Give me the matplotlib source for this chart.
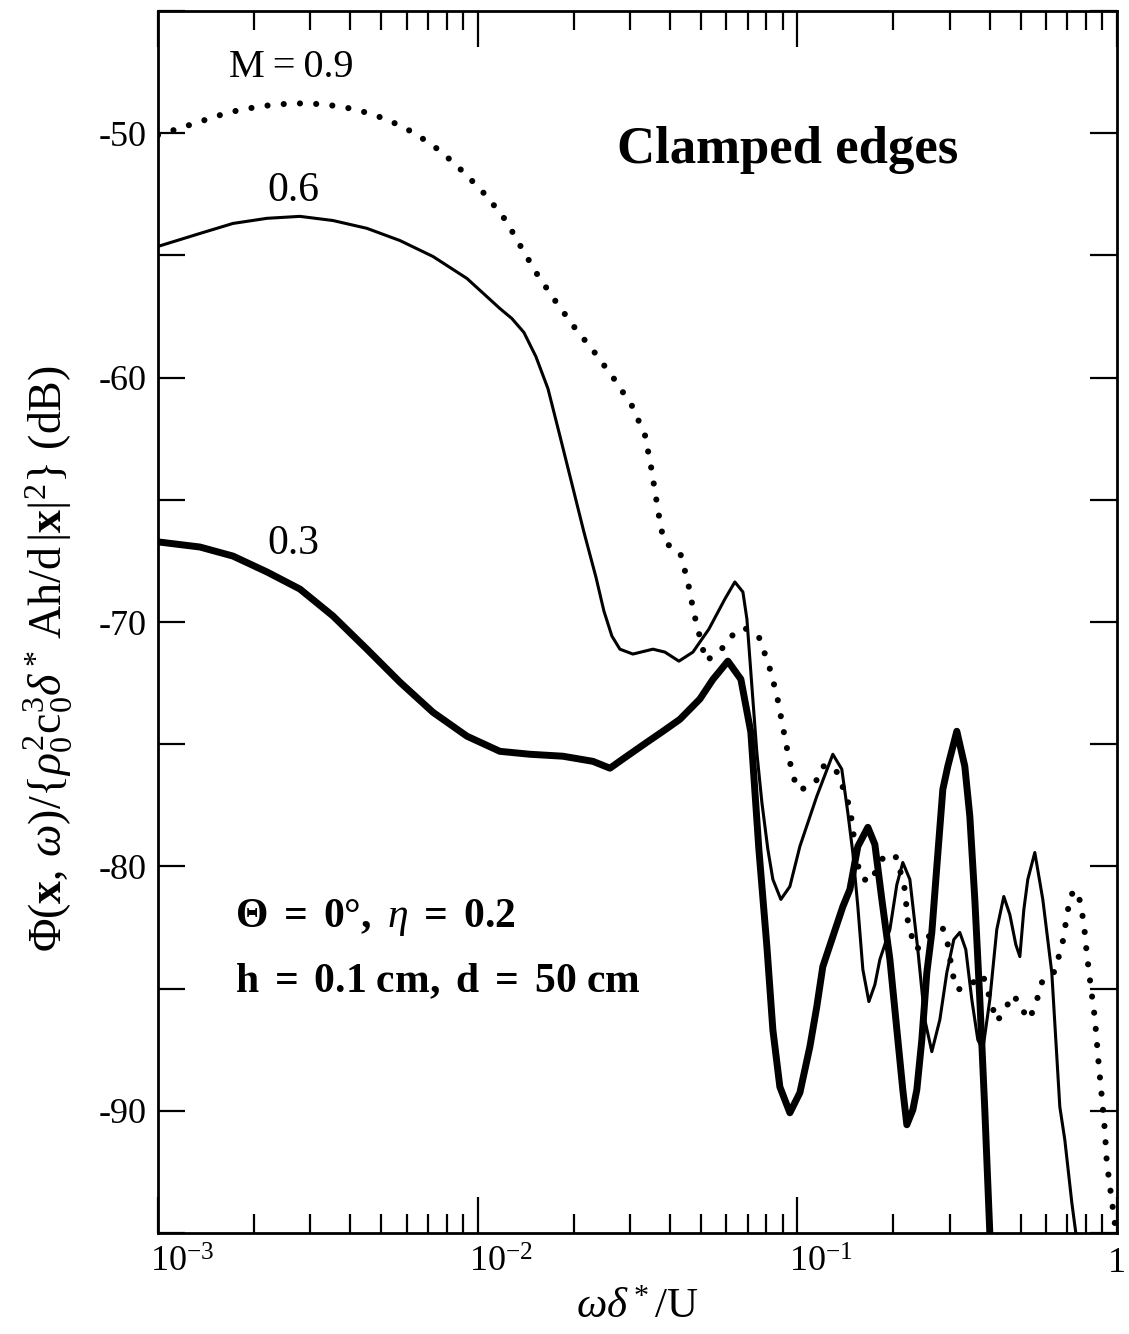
import matplotlib
matplotlib.use("Agg")
import matplotlib.pyplot as plt
import matplotlib.ticker as mticker
import matplotlib.transforms as mtransforms
import numpy as np

plt.rcParams['font.family'] = 'Liberation Serif'
plt.rcParams['mathtext.fontset'] = 'custom'
plt.rcParams['mathtext.rm'] = 'Liberation Serif'
plt.rcParams['mathtext.it'] = 'Liberation Serif:italic'
plt.rcParams['mathtext.bf'] = 'Liberation Serif:bold'
plt.rcParams['axes.unicode_minus'] = False

# M = 0.3 (thick line)
x_03 = [0.001, 0.001353, 0.001716, 0.002193, 0.00278, 0.003526, 0.004505, 0.005715,
        0.007247, 0.009259, 0.01174, 0.01457, 0.01848, 0.02295, 0.02594, 0.02931,
        0.03385, 0.03800, 0.04294, 0.04958, 0.05445, 0.06067, 0.06662, 0.07158,
        0.07584, 0.08035, 0.08388, 0.08822, 0.09482, 0.1019, 0.1095, 0.1151,
        0.1202, 0.1292, 0.1389, 0.1461, 0.1547, 0.1663, 0.1749, 0.1839, 0.1949,
        0.2049, 0.2139, 0.2202, 0.2299, 0.2366, 0.2453, 0.2543, 0.2636, 0.2733,
        0.2854, 0.2958, 0.3156, 0.3343, 0.3466, 0.3593, 0.3725, 0.3861, 0.4003]
y_03 = [-66.72, -66.93, -67.30, -67.95, -68.65, -69.75, -71.11, -72.46,
        -73.69, -74.67, -75.29, -75.41, -75.49, -75.70, -75.98, -75.49,
        -74.92, -74.47, -73.98, -73.15, -72.35, -71.60, -72.34, -74.51,
        -79.30, -83.28, -86.68, -89.02, -90.08, -89.26, -87.38, -85.74,
        -84.10, -82.87, -81.64, -80.94, -79.18, -78.40, -79.10, -81.35, -83.81,
        -86.68, -89.14, -90.57, -89.96, -89.14, -87.09, -84.34, -82.70, -80.00,
        -76.84, -75.90, -74.47, -75.90, -77.95, -81.35, -85.45, -89.96, -95.00]

# M = 0.6 (thin line)
x_06 = [0.001, 0.001353, 0.001716, 0.002193, 0.00278, 0.003526, 0.004505, 0.005715,
        0.007247, 0.009259, 0.01174, 0.01280, 0.01396, 0.01522, 0.01660, 0.01809,
        0.01972, 0.02150, 0.02345, 0.02484, 0.02630, 0.02787, 0.03060, 0.03535,
        0.03855, 0.04263, 0.04716, 0.05290, 0.05936, 0.06379, 0.06760, 0.06958,
        0.07211, 0.07474, 0.07750, 0.08091, 0.08388, 0.08885, 0.09482, 0.1019,
        0.1151, 0.1292, 0.1378, 0.1439, 0.1492, 0.1547, 0.1604, 0.1675, 0.1749,
        0.1813, 0.1949, 0.2049, 0.2139, 0.2250, 0.2383, 0.2506, 0.2636, 0.2793,
        0.2937, 0.3089, 0.3225, 0.3367, 0.3516, 0.3671, 0.3806, 0.4003, 0.4209,
        0.4427, 0.4624, 0.4828, 0.4970, 0.5115, 0.5263, 0.5535, 0.5863, 0.6255,
        0.6628, 0.6871, 0.7228, 0.7438]
y_06 = [-54.63, -54.10, -53.69, -53.48, -53.40, -53.57, -53.89, -54.39,
        -55.04, -55.94, -57.17, -57.58, -58.15, -59.14, -60.45, -62.38,
        -64.34, -66.31, -68.16, -69.55, -70.57, -71.11, -71.31, -71.11,
        -71.23, -71.60, -71.23, -70.29, -69.06, -68.36, -68.77, -69.88,
        -72.62, -75.33, -77.38, -79.30, -80.53, -81.35, -80.82, -79.18,
        -77.13, -75.41, -76.02, -77.79, -79.43, -81.64, -84.22, -85.53, -84.84,
        -83.81, -82.58, -80.74, -79.84, -80.53, -83.40, -86.27, -87.58, -86.27,
        -84.34, -82.99, -82.70, -83.40, -85.45, -87.09, -87.50, -85.45, -82.58,
        -81.23, -81.97, -83.20, -83.69, -81.76, -80.53, -79.43, -81.35, -84.34,
        -89.84, -91.19, -93.77, -95.00]

# M = 0.9 (dotted line)
x_09 = [0.001, 0.001334, 0.001667, 0.002100, 0.002645, 0.003305, 0.004162, 0.005203,
        0.006366, 0.007677, 0.009125, 0.01069, 0.01226, 0.01375, 0.01544, 0.01757,
        0.02001, 0.02311, 0.02669, 0.03039, 0.03337, 0.03484, 0.03612, 0.03745,
        0.03855, 0.04294, 0.04548, 0.04749, 0.05030, 0.05177, 0.05445, 0.05936,
        0.06379, 0.06858, 0.07584, 0.08149, 0.08633, 0.09016, 0.09414, 0.09972,
        0.1072, 0.1144, 0.1202, 0.1311, 0.1369, 0.1429, 0.1471, 0.1514, 0.1569,
        0.1687, 0.1879, 0.2049, 0.2170, 0.2218, 0.2283, 0.2366, 0.2543, 0.2854,
        0.2958, 0.3067, 0.3156, 0.3392, 0.3806, 0.3946, 0.4209, 0.4493, 0.4691,
        0.5004, 0.5224, 0.5495, 0.5863, 0.6391, 0.6771, 0.7021, 0.7175, 0.7545,
        0.7877, 0.8049, 0.8285, 0.8528, 0.8779, 0.8969, 0.9164, 0.9295, 0.9568,
        0.9847]
y_09 = [-50.08, -49.55, -49.14, -48.89, -48.77, -48.81, -49.02, -49.43,
        -50.00, -50.74, -51.64, -52.58, -53.57, -54.71, -55.82, -56.89,
        -57.91, -58.93, -60.04, -61.15, -62.34, -63.61, -64.88, -66.15,
        -66.76, -67.13, -68.36, -69.63, -70.94, -71.60, -71.39, -70.98,
        -70.41, -70.25, -70.61, -71.76, -72.99, -74.30, -75.57, -76.84,
        -76.80, -76.52, -75.90, -75.94, -76.56, -77.17, -77.87, -79.10, -80.41,
        -80.66, -79.51, -79.63, -80.94, -82.25, -82.87, -83.40, -82.91, -82.54,
        -83.20, -84.43, -85.04, -84.96, -84.43, -85.12, -86.35, -85.82, -85.25,
        -85.61, -86.27, -85.90, -84.63, -84.30, -83.07, -81.80, -81.15, -80.98,
        -82.30, -83.57, -84.92, -86.19, -88.16, -89.43, -90.78, -92.09, -93.36,
        -94.59]

x_ticks = [1e-3, 1e-2, 1e-1, 1]
x_ticklabels = ['$10^{-3}$', '$10^{-2}$', '$10^{-1}$', '1']
y_ticks = [-90, -80, -70, -60, -50]

fig = plt.figure(figsize=(11.29, 13.34), dpi=100)
ax = fig.add_axes([0.1399, 0.0757, 0.8494, 0.9160])

ax.plot(x_03, y_03, color='black', lw=5.0, solid_joinstyle='round', solid_capstyle='butt')
ax.plot(x_06, y_06, color='black', lw=2.2, solid_joinstyle='round')
ax.plot(x_09, y_09, color='black', lw=4.4, linestyle=(0, (0.01, 2.65)),
        dash_capstyle='round')

ax.set_xscale('log')
ax.set_xlim(1e-3, 1)
ax.set_ylim(-95, -45)

ax.set_xticks(x_ticks)
ax.set_xticklabels(x_ticklabels)
ax.xaxis.set_minor_locator(mticker.LogLocator(base=10, subs=np.arange(2, 10)))
ax.xaxis.set_minor_formatter(mticker.NullFormatter())
ax.set_yticks(y_ticks)
ax.set_yticklabels([str(v) for v in y_ticks])
ax.yaxis.set_minor_locator(mticker.MultipleLocator(5))

ax.tick_params(which='both', direction='in', top=True, right=True, width=1.6)
ax.tick_params(axis='x', which='major', length=26, labelsize=26, pad=10)
ax.tick_params(axis='x', which='minor', length=13.5)
ax.tick_params(axis='y', which='both', length=19.5, labelsize=26, pad=8)
for sp in ax.spines.values():
    sp.set_linewidth(2.0)

# power labels start near the tick, as in the original figure
shift = mtransforms.ScaledTranslation(-6 / 72, 0, fig.dpi_scale_trans)
for lbl in ax.get_xticklabels()[:3]:
    lbl.set_horizontalalignment('left')
    lbl.set_transform(lbl.get_transform() + shift)

ax.set_xlabel(r'$\omega\delta^*/\mathrm{U}$', fontsize=31, labelpad=6)
ax.set_ylabel(r'$\Phi(\mathbf{x},\,\omega)/\{\rho_0^2\mathrm{c}_0^3\delta^*\,\mathrm{Ah/d}\,|\mathbf{x}|^2\}$ (dB)',
              fontsize=33)
ax.yaxis.set_label_coords(-0.087, 0.47)

ax.text(0.00262, -47.3, 'M\u2009=\u20090.9', fontsize=29, ha='center', va='center')
ax.text(0.00265, -52.35, '0.6', fontsize=30, ha='center', va='center')
ax.text(0.00265, -66.8, '0.3', fontsize=30, ha='center', va='center')
ax.text(0.093, -50.7, 'Clamped edges', fontsize=38, fontweight='bold',
        ha='center', va='center')
ax.text(0.00174, -82.1, r'$\mathbf{\Theta\ =\ 0°,}\ \eta\ \mathbf{=\ 0.2}$',
        fontsize=30, ha='left', va='center')
ax.text(0.00174, -84.7, r'$\mathbf{h\ =\ 0.1\ cm,\ d\ =\ 50\ cm}$',
        fontsize=30, ha='left', va='center')

fig.savefig('out.png', dpi=100)
